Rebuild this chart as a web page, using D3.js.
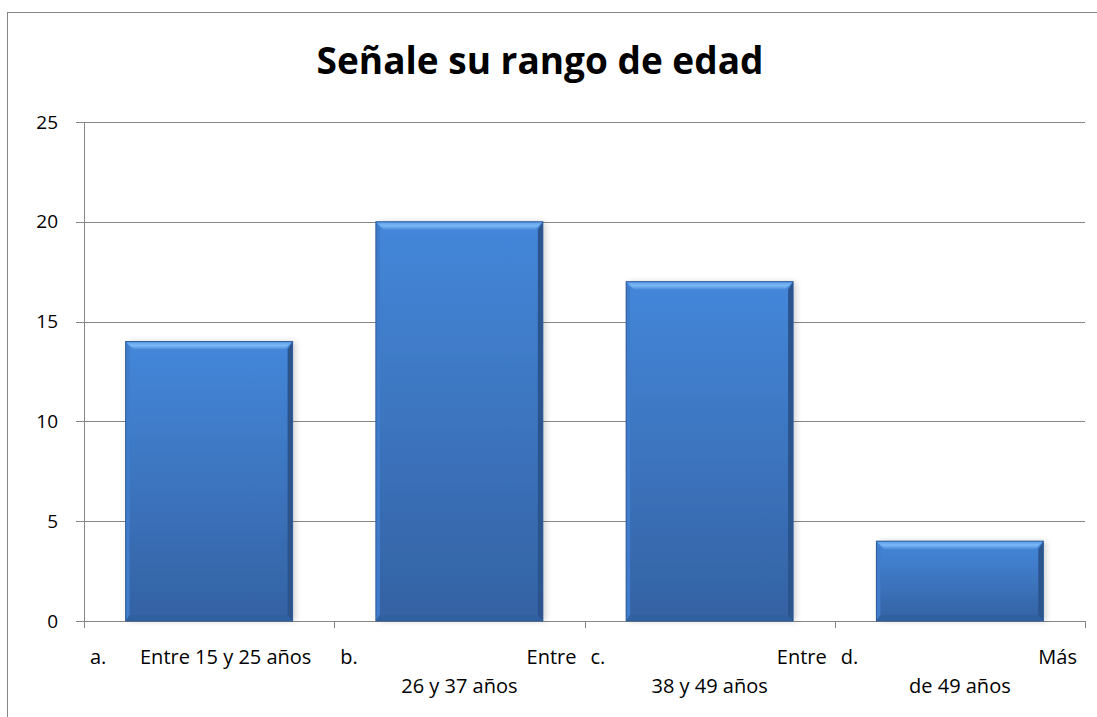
<!DOCTYPE html>
<html>
<head>
<meta charset="utf-8">
<script src="https://cdn.jsdelivr.net/npm/d3@7"></script>
<style>
  body { margin: 0; background: #fff; }
  svg { display: block; }
  text { font-family: "Open Sans", "Noto Sans", sans-serif; fill: #000; }
</style>
</head>
<body>
<svg id="chart" width="1097" height="717"></svg>
<script>
// data
var categories = ["a.", "b.", "c.", "d."];
var labelLines = [
  ["Entre 15 y 25 años"],
  ["Entre", "26 y 37 años"],
  ["Entre", "38 y 49 años"],
  ["Más", "de 49 años"]
];
var values = [14, 20, 17, 4];
var yTicks = [0, 5, 10, 15, 20, 25];
var title = "Señale su rango de edad";

var svg = d3.select("#chart");
var margin = {left: 84, right: 12, top: 122, bottom: 96};
var W = 1097, H = 717;

// outer frame (left + top visible only)
svg.append("rect")
  .attr("x", 7.5).attr("y", 12.5)
  .attr("width", 1200).attr("height", 800)
  .attr("fill", "none").attr("stroke", "#868686");

svg.append("text")
  .attr("x", 540).attr("y", 74)
  .attr("text-anchor", "middle")
  .style("font-size", "37px").style("font-weight", "bold")
  .text(title);

var x = d3.scaleBand()
  .domain(categories)
  .range([margin.left, W - margin.right])
  .paddingInner(0.333).paddingOuter(0.1665);

var y = d3.scaleLinear().domain([0, 25]).range([H - margin.bottom, margin.top]);

// grid lines
svg.append("g").selectAll("line").data(yTicks).enter().append("line")
  .attr("x1", margin.left - 8).attr("x2", W - margin.right)
  .attr("y1", function(d) { return Math.round(y(d)) + 0.5; })
  .attr("y2", function(d) { return Math.round(y(d)) + 0.5; })
  .attr("stroke", "#868686").attr("stroke-width", 1);

// y axis line
svg.append("line")
  .attr("x1", margin.left + 0.5).attr("x2", margin.left + 0.5)
  .attr("y1", y(25)).attr("y2", y(0) + 7)
  .attr("stroke", "#868686");

// y tick labels
svg.append("g").selectAll("text").data(yTicks).enter().append("text")
  .attr("x", 58).attr("y", function(d) { return y(d); })
  .attr("dy", "0.35em").attr("text-anchor", "end")
  .style("font-size", "19px")
  .text(function(d) { return d; });

// x category ticks
var step = x.step();
var bounds = categories.map(function(c) { return x(c) - x.paddingOuter() * step + step; });
svg.append("g").selectAll("line").data(bounds).enter().append("line")
  .attr("x1", function(d) { return Math.round(d) + 0.5; })
  .attr("x2", function(d) { return Math.round(d) + 0.5; })
  .attr("y1", y(0)).attr("y2", y(0) + 7)
  .attr("stroke", "#868686");

// bar gradients
var defs = svg.append("defs");
var g1 = defs.append("linearGradient").attr("id", "barFill")
  .attr("x1", 0).attr("y1", 0).attr("x2", 0).attr("y2", 1);
g1.append("stop").attr("offset", "0%").attr("stop-color", "#4487da");
g1.append("stop").attr("offset", "100%").attr("stop-color", "#3462a3");
var g2 = defs.append("linearGradient").attr("id", "topBevel")
  .attr("x1", 0).attr("y1", 0).attr("x2", 0).attr("y2", 1);
g2.append("stop").attr("offset", "0%").attr("stop-color", "#5a9be6");
g2.append("stop").attr("offset", "50%").attr("stop-color", "#7ab8f6");
g2.append("stop").attr("offset", "100%").attr("stop-color", "#4a8ad8");
var shadow = defs.append("filter").attr("id", "shadow")
  .attr("x", "-10%").attr("y", "-10%").attr("width", "130%").attr("height", "130%");
shadow.append("feGaussianBlur").attr("in", "SourceAlpha").attr("stdDeviation", 3);
shadow.append("feOffset").attr("dx", 3).attr("dy", 0).attr("result", "b");
shadow.append("feComponentTransfer").append("feFuncA").attr("type", "linear").attr("slope", 0.18);
var fm = shadow.append("feMerge");
fm.append("feMergeNode");
fm.append("feMergeNode").attr("in", "SourceGraphic");

var bars = svg.append("g").selectAll("g").data(values).enter().append("g")
  .attr("transform", function(d, i) { return "translate(" + x(categories[i]) + "," + y(d) + ")"; });

var bw = x.bandwidth();
bars.append("rect")
  .attr("width", bw)
  .attr("height", function(d) { return y(0) - y(d); })
  .attr("fill", "url(#barFill)")
  .attr("filter", "url(#shadow)");
// top bevel
bars.append("path")
  .attr("d", "M0,0 H" + bw + " L" + (bw - 8) + ",8 H8 Z")
  .attr("fill", "url(#topBevel)");
// left bevel
bars.append("path")
  .attr("d", function(d) { var h = y(0) - y(d); return "M0,0 L4,8 V" + (h - 6) + " L0," + h + " Z"; })
  .attr("fill", "#3f7ccb");
// right bevel
bars.append("path")
  .attr("d", function(d) { var h = y(0) - y(d); return "M" + bw + ",0 L" + (bw - 5) + ",8 V" + (h - 6) + " L" + bw + "," + h + " Z"; })
  .attr("fill", "#2b538c");
// bottom bevel
bars.append("path")
  .attr("d", function(d) { var h = y(0) - y(d); return "M0," + h + " L4," + (h - 6) + " H" + (bw - 5) + " L" + bw + "," + h + " Z"; })
  .attr("fill", "#30609f");
// outline
bars.append("rect")
  .attr("width", bw)
  .attr("height", function(d) { return y(0) - y(d); })
  .attr("fill", "none").attr("stroke", "#2d5a98").attr("stroke-width", 1);

// x labels
var labels = svg.append("g").selectAll("g").data(categories).enter().append("g");
labels.append("text")
  .attr("x", function(d, i) { return bounds[i] - step + 6; })
  .attr("y", 664)
  .style("font-size", "20px")
  .text(function(d) { return d; });
labels.each(function(d, i) {
  var sel = d3.select(this);
  var lines = labelLines[i];
  var left = bounds[i] - step;
  if (lines.length === 1) {
    sel.append("text").attr("x", left + 56).attr("y", 664)
      .style("font-size", "20px").text(lines[0]);
  } else {
    sel.append("text").attr("x", bounds[i] - 8).attr("y", 664)
      .attr("text-anchor", "end").style("font-size", "20px").text(lines[0]);
    sel.append("text").attr("x", left + step / 2).attr("y", 693)
      .attr("text-anchor", "middle").style("font-size", "20px").text(lines[1]);
  }
});
</script>
</body>
</html>
